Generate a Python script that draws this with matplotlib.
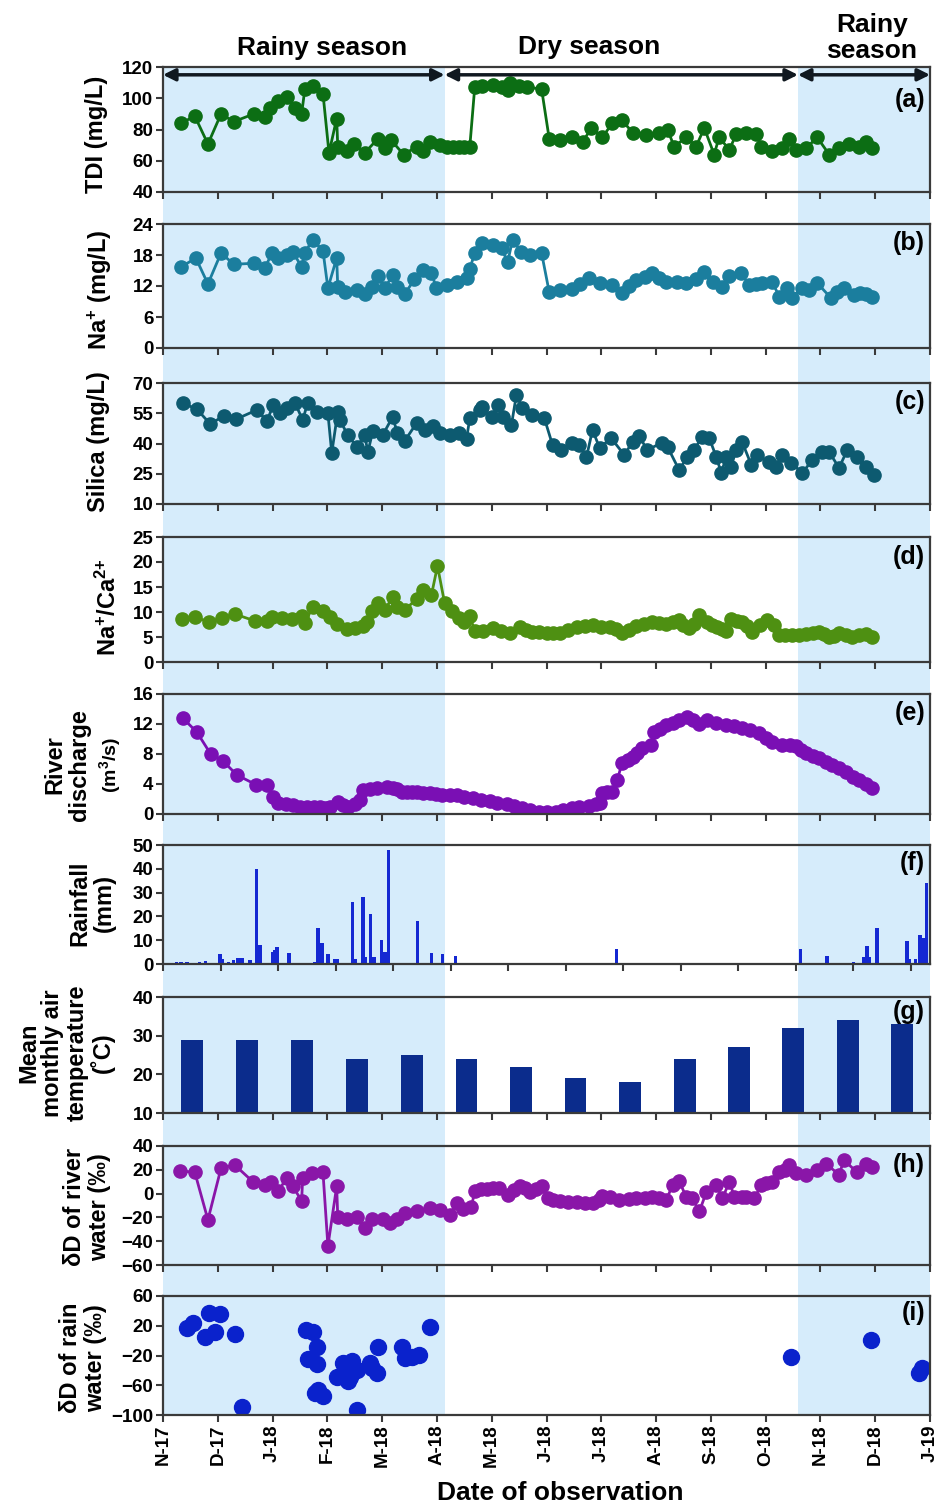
import matplotlib.pyplot as plt

plt.rcParams["font.family"] = ["Liberation Sans", "DejaVu Sans"]
plt.rcParams["font.weight"] = "bold"
plt.rcParams["mathtext.fontset"] = "custom"
plt.rcParams["mathtext.rm"] = "Liberation Sans:bold"
plt.rcParams["mathtext.bf"] = "Liberation Sans:bold"
plt.rcParams["mathtext.default"] = "regular"

# x axis: months since 1 Nov 2017
MONTH_LABELS = ["N-17", "D-17", "J-18", "F-18", "M-18", "A-18", "M-18", "J-18",
                "J-18", "A-18", "S-18", "O-18", "N-18", "D-18", "J-19"]
RAINY_1 = (0.0, 5.14)
DRY = (5.14, 11.59)
RAINY_2 = (11.59, 14.0)

# (a) TDI (mg/L)
tdi_x = [0.33, 0.58, 0.82, 1.06, 1.29, 1.66, 1.86, 1.95, 2.10, 2.26, 2.41, 2.53, 2.59, 2.73,
         2.92, 3.03, 3.17, 3.19, 3.35, 3.48, 3.68, 3.92, 4.05, 4.17, 4.39, 4.63, 4.74, 4.87,
         5.05, 5.18, 5.30, 5.41, 5.50, 5.60, 5.69, 5.83, 6.02, 6.18, 6.29, 6.33, 6.50, 6.64,
         6.91, 7.05, 7.24, 7.47, 7.66, 7.82, 8.02, 8.20, 8.38, 8.57, 8.82, 9.06, 9.21, 9.33,
         9.55, 9.73, 9.88, 10.06, 10.15, 10.34, 10.46, 10.65, 10.83, 10.92, 11.12, 11.30,
         11.43, 11.56, 11.74, 11.94, 12.16, 12.34, 12.52, 12.71, 12.83, 12.94]
tdi_y = [84, 88.6, 70.7, 90, 85, 90, 88, 94, 98, 101, 94, 90, 106, 108,
         103, 65, 87, 69, 66, 71, 65, 74, 68, 73, 64, 69, 66, 72,
         70, 69, 69, 69, 68.5, 69, 107, 108, 108.5, 107, 105, 110, 108, 107,
         106, 74, 73, 75, 72, 81, 75, 84, 86, 78, 76.5, 77.5, 80, 69,
         75, 69, 81, 64, 75, 67, 77, 78, 77, 69, 66, 68,
         74, 67, 68, 75, 64, 68, 71, 69, 72, 68]

# (b) Na+ (mg/L)
na_x = [0.33, 0.60, 0.82, 1.06, 1.29, 1.66, 1.86, 1.99, 2.10, 2.26, 2.37, 2.53, 2.59, 2.73,
        2.92, 3.01, 3.17, 3.19, 3.32, 3.54, 3.68, 3.81, 3.92, 4.05, 4.19, 4.28, 4.41, 4.59,
        4.74, 4.90, 4.99, 5.18, 5.36, 5.54, 5.60, 5.69, 5.83, 6.02, 6.18, 6.29, 6.38, 6.54,
        6.69, 6.91, 7.05, 7.24, 7.47, 7.62, 7.78, 7.97, 8.20, 8.38, 8.50, 8.64, 8.80, 8.93,
        9.05, 9.19, 9.38, 9.55, 9.72, 9.88, 10.03, 10.21, 10.34, 10.55, 10.70, 10.82, 10.94,
        11.12, 11.25, 11.39, 11.48, 11.67, 11.80, 11.94, 12.19, 12.30, 12.43, 12.61, 12.72,
        12.83, 12.94]
na_y = [15.7, 17.4, 12.4, 18.4, 16.2, 16.4, 15.5, 18.4, 17.4, 18, 18.6, 15.7, 18.4, 21,
        18.8, 11.6, 17.4, 11.8, 10.8, 11.2, 10.4, 11.8, 13.9, 11.6, 14.1, 11.8, 10.4, 13.3,
        15.1, 14.5, 11.6, 12.2, 12.8, 13.5, 15.3, 18.4, 20.3, 19.9, 19.3, 16.6, 20.9, 18.6,
        18, 18.4, 10.8, 11.2, 11.4, 12.3, 13.5, 12.6, 12.2, 10.6, 12.0, 13.2, 13.8, 14.5,
        13.6, 12.8, 12.8, 12.6, 13.4, 14.7, 12.8, 11.8, 13.9, 14.5, 12.2, 12.4, 12.6,
        12.8, 9.9, 11.6, 9.7, 11.6, 11.2, 12.6, 9.7, 10.8, 11.6, 10.2, 10.6,
        10.4, 9.9]

# (c) Silica (mg/L)
si_x = [0.36, 0.62, 0.86, 1.11, 1.33, 1.71, 1.90, 2.01, 2.13, 2.26, 2.41, 2.55, 2.64, 2.81,
        3.01, 3.08, 3.19, 3.23, 3.37, 3.54, 3.68, 3.74, 3.83, 4.01, 4.19, 4.28, 4.41, 4.63,
        4.78, 4.92, 5.05, 5.23, 5.41, 5.54, 5.60, 5.78, 5.83, 6.00, 6.11, 6.20, 6.36, 6.45,
        6.56, 6.73, 6.96, 7.11, 7.27, 7.46, 7.60, 7.73, 7.84, 7.97, 8.18, 8.42, 8.57, 8.69,
        8.84, 9.10, 9.21, 9.42, 9.57, 9.70, 9.83, 9.97, 10.10, 10.19, 10.28, 10.37, 10.46,
        10.57, 10.74, 10.85, 11.06, 11.19, 11.30, 11.47, 11.67, 11.85, 12.03, 12.16, 12.34,
        12.49, 12.67, 12.83, 12.98]
si_y = [60, 57, 49.7, 53.6, 52, 56.6, 51.2, 59, 55, 57.6, 60, 51.7, 60, 55.6,
        55, 35.3, 55.6, 51.7, 44.2, 38.3, 44.2, 35.8, 46.2, 44.2, 53.1, 45.2, 41.2, 50.2,
        46.7, 48.7, 45.2, 44.2, 45.2, 42.2, 52.6, 56.6, 58, 53.1, 59, 53.1, 49.2, 64,
        57.6, 54.1, 52.6, 39.3, 36.8, 40.3, 39.3, 33.3, 46.7, 37.8, 42.7, 34.3, 40.8, 43.7,
        36.8, 40.3, 38.3, 26.9, 33.3, 36.8, 43.2, 42.7, 33.3, 25.4, 33.3, 28.4, 36.8,
        40.8, 29.3, 34.3, 30.8, 28.4, 34.3, 30.3, 25.4, 31.8, 35.8, 35.8, 27.9,
        36.8, 33.3, 28.4, 24.4]

# (d) Na+/Ca2+
ratio_x = [0.35, 0.58, 0.84, 1.08, 1.31, 1.68, 1.90, 1.99, 2.17, 2.35, 2.53, 2.59, 2.73, 2.92,
           3.04, 3.17, 3.35, 3.50, 3.65, 3.72, 3.81, 3.92, 4.05, 4.19, 4.28, 4.41, 4.63, 4.74,
           4.90, 5.01, 5.14, 5.27, 5.41, 5.50, 5.60, 5.69, 5.85, 6.02, 6.17, 6.33, 6.51, 6.62,
           6.73, 6.86, 7.00, 7.12, 7.24, 7.40, 7.55, 7.70, 7.84, 8.00, 8.15, 8.26, 8.38, 8.50,
           8.64, 8.78, 8.93, 9.06, 9.19, 9.30, 9.42, 9.50, 9.61, 9.70, 9.79, 9.93, 10.02, 10.12,
           10.20, 10.28, 10.37, 10.47, 10.57, 10.66, 10.75, 10.90, 11.03, 11.16, 11.25, 11.35,
           11.48, 11.60, 11.74, 11.86, 11.98, 12.07, 12.16, 12.25, 12.34, 12.46, 12.58, 12.70,
           12.83, 12.94]
ratio_y = [8.6, 9, 8, 8.8, 9.6, 8.2, 8.2, 9, 8.8, 8.6, 9.2, 7.8, 11, 10.2,
           9, 7.6, 6.6, 6.8, 7.2, 8, 10.2, 11.8, 10.4, 13, 11, 10.4, 12.6, 14.4,
           13.4, 19.2, 11.8, 10.2, 8.8, 8, 9.2, 6.2, 6.3, 6.8, 6.2, 5.8, 7, 6.5,
           6, 6.0, 5.8, 5.9, 5.8, 6.4, 7, 7.2, 7.4, 7.1, 7, 6.6, 5.8, 6.5,
           7.2, 7.6, 8, 7.8, 7.6, 8.0, 8.4, 7.4, 6.8, 7.6, 9.4, 8, 7.5, 7,
           6.6, 6.2, 8.6, 8.3, 8, 7.2, 6, 7.4, 8.4, 7.4, 5.4, 5.5,
           5.4, 5.5, 5.6, 5.8, 6, 5.6, 5, 5.3, 5.8, 5.5, 5, 5.4,
           5.6, 5]

# (e) River discharge (m3/s)
q_x = [0.36, 0.62, 0.87, 1.09, 1.35, 1.70, 1.90, 2.01, 2.10, 2.25, 2.37, 2.50, 2.62, 2.75,
       2.86, 2.95, 3.04, 3.19, 3.28, 3.37, 3.50, 3.59, 3.65, 3.78, 3.90, 4.08, 4.20, 4.27,
       4.36, 4.45, 4.54, 4.63, 4.75, 4.87, 4.98, 5.10, 5.23, 5.36, 5.50, 5.65, 5.80, 5.96,
       6.10, 6.27, 6.40, 6.56, 6.70, 6.87, 7.00, 7.18, 7.30, 7.47, 7.60, 7.78, 7.90, 7.97,
       8.02, 8.10, 8.20, 8.29, 8.38, 8.48, 8.57, 8.66, 8.75, 8.91, 8.97, 9.08, 9.19, 9.30,
       9.42, 9.57, 9.68, 9.79, 9.93, 10.10, 10.28, 10.42, 10.57, 10.72, 10.88, 11.00, 11.12,
       11.30, 11.45, 11.56, 11.65, 11.74, 11.86, 11.98, 12.10, 12.21, 12.34, 12.47, 12.59,
       12.71, 12.83, 12.94]
q_y = [12.8, 10.9, 8, 7.1, 5.2, 3.9, 3.9, 2.3, 1.5, 1.3, 1.2, 1.0, 0.9, 0.9,
       0.9, 0.85, 0.9, 1.6, 1.2, 0.9, 1.4, 1.9, 3.2, 3.4, 3.5, 3.6, 3.5, 3.3,
       3.0, 2.9, 2.9, 2.9, 2.85, 2.8, 2.7, 2.5, 2.55, 2.5, 2.3, 2.1, 1.9, 1.7,
       1.5, 1.3, 1.05, 0.8, 0.55, 0.3, 0.3, 0.3, 0.5, 0.8, 0.95, 1.1, 1.3, 1.5,
       2.8, 2.9, 2.9, 4.5, 6.8, 7.2, 7.6, 8.2, 8.8, 9.2, 10.9, 11.4, 11.9, 12.2,
       12.5, 12.9, 12.5, 12.0, 12.5, 12.2, 11.9, 11.7, 11.5, 11.2, 10.8, 10.2, 9.6,
       9.2, 9.2, 9.1, 8.6, 8.1, 7.8, 7.5, 7.0, 6.5, 6.1, 5.6, 5.0,
       4.5, 4.0, 3.5]

# (f) Daily rainfall (mm)
rain_x = [0.24, 0.33, 0.44, 0.67, 0.77, 1.04, 1.09, 1.20, 1.29, 1.37, 1.44, 1.59, 1.71, 1.77,
          2.00, 2.04, 2.08, 2.30, 2.77, 2.83, 2.90, 3.01, 3.14, 3.19, 3.46, 3.52, 3.65, 3.70,
          3.79, 3.85, 3.99, 4.05, 4.12, 4.27, 4.37, 4.65, 4.90, 5.10, 5.34, 7.02, 8.09, 8.28,
          10.21, 11.63, 12.12, 12.61, 12.78, 12.85, 12.89, 13.03, 13.58, 13.63, 13.74, 13.82,
          13.87, 13.94]
rain_y = [1, 1, 1, 0.8, 1.3, 4, 2, 1, 1.5, 2.5, 2.5, 1.5, 40, 8,
          5, 6, 7, 4.5, 1, 15, 9, 4, 2, 2, 26, 2, 28, 3,
          21, 3, 10, 5, 48, 0.5, 0.3, 18, 4.5, 4, 3.5, 0.2, 0.3, 6.5,
          0.3, 6.5, 3.5, 1, 3, 7.5, 3, 15, 9.5, 2, 2, 12,
          11, 34]

# (g) Mean monthly air temperature (deg C)
temp_x = [0.53, 1.53, 2.53, 3.54, 4.54, 5.54, 6.54, 7.53, 8.53, 9.53, 10.52, 11.50, 12.50, 13.49]
temp_y = [29, 29, 29, 24, 25, 24, 22, 19, 18, 24, 27, 32, 34, 33]

# (h) dD of river water (permil)
dr_x = [0.31, 0.58, 0.82, 1.06, 1.31, 1.64, 1.86, 1.97, 2.10, 2.26, 2.37, 2.53, 2.55, 2.72,
        2.92, 3.01, 3.17, 3.19, 3.35, 3.54, 3.68, 3.81, 4.01, 4.14, 4.28, 4.41, 4.63, 4.87,
        5.05, 5.23, 5.36, 5.47, 5.63, 5.69, 5.80, 5.91, 6.02, 6.14, 6.29, 6.40, 6.51, 6.60,
        6.69, 6.80, 6.91, 7.02, 7.12, 7.24, 7.40, 7.55, 7.70, 7.84, 7.95, 8.02, 8.15, 8.33,
        8.50, 8.64, 8.80, 8.93, 9.05, 9.19, 9.30, 9.42, 9.55, 9.66, 9.79, 9.92, 10.10,
        10.21, 10.34, 10.43, 10.57, 10.65, 10.79, 10.92, 11.00, 11.12, 11.25, 11.35, 11.43,
        11.56, 11.74, 11.94, 12.10, 12.34, 12.43, 12.67, 12.83, 12.94]
dr_y = [19, 18, -22, 21.5, 24, 10, 7, 10, 2, 13, 6, -6, 13, 17,
        18, -44, 6, -20, -21, -20, -29, -21, -21, -25, -21, -16, -15, -12,
        -14, -18, -8, -13, -11, 2, 4, 4, 4.5, 5, -1, 3, 6, 5,
        1.5, 4, 6, -4, -5, -6, -7, -7, -7.5, -8, -5, -2, -3, -5,
        -4.5, -4, -3.5, -3, -4, -5, 7, 11, -3, -4, -15, 1.5, 7,
        -4, 10, -3, -3, -3, -4, 7, 9, 10, 18, 20, 24,
        17, 16, 20, 25, 16, 28, 18, 25, 22]

# (i) dD of rain water (permil)
dp_x = [0.44, 0.55, 0.77, 0.84, 0.95, 1.04, 1.31, 1.44, 2.61, 2.73, 2.81, 2.64, 2.81, 2.83,
        2.92, 2.77, 3.17, 3.28, 3.41, 3.37, 3.45, 3.54, 3.55, 3.77, 3.81, 3.90, 3.92, 4.37,
        4.41, 4.54, 4.68, 4.87, 11.47, 12.92, 13.80, 13.85]
dp_y = [17, 24, 5, 37, 12, 36, 9, -89, 14, 12, -9, -25, -31, -66,
        -75, -70, -49, -30, -49, -54, -28, -39, -93, -30, -37, -44, -8, -8,
        -24, -22, -19, 18, -22, 1, -44, -37]

W, H = 941, 1509
LEFT, RIGHT = 163, 930


def fx(px):
    return px / W


def fy(py):
    return 1 - py / H


def make_axes(fig, top, bottom):
    ax = fig.add_axes([fx(LEFT), fy(bottom), fx(RIGHT) - fx(LEFT), (bottom - top) / H])
    ax.set_facecolor("none")
    ax.set_xlim(0, 14)
    ax.set_xticks(range(15))
    ax.set_xticklabels([])
    for sp in ax.spines.values():
        sp.set_color("#3a3a3a")
        sp.set_linewidth(1.6)
    ax.tick_params(direction="out", length=5, width=1.5, color="#3a3a3a",
                   labelsize=13.5, pad=2)
    return ax


fig = plt.figure(figsize=(W / 100, H / 100), dpi=100)

# seasonal shading behind all panels
bg = fig.add_axes([fx(LEFT), fy(1415), fx(RIGHT) - fx(LEFT), (1415 - 67) / H], zorder=-5)
bg.set_xlim(0, 14)
bg.set_ylim(0, 1)
bg.axis("off")
for a, b in (RAINY_1, RAINY_2):
    bg.axvspan(a, b, color="#d6ecfb", lw=0)

rows = [(67, 192), (224, 348), (383, 504), (537, 662), (694, 814),
        (845, 964), (997, 1113), (1146, 1265), (1296, 1415)]
axes = [make_axes(fig, t, b) for t, b in rows]
ax_a, ax_b, ax_c, ax_d, ax_e, ax_f, ax_g, ax_h, ax_i = axes

line_kw = dict(marker="o", markersize=9.5, linewidth=2)
ax_a.plot(tdi_x, tdi_y, color="#0c6e14", **line_kw)
ax_a.set_ylim(40, 120)
ax_a.set_yticks(range(40, 121, 20))

ax_b.plot(na_x, na_y, color="#1b7e9e", **line_kw)
ax_b.set_ylim(0, 24)
ax_b.set_yticks(range(0, 25, 6))

ax_c.plot(si_x, si_y, color="#0d5a70", **line_kw)
ax_c.set_ylim(10, 70)
ax_c.set_yticks(range(10, 71, 15))

ax_d.plot(ratio_x, ratio_y, color="#4e9012", **line_kw)
ax_d.set_ylim(0, 25)
ax_d.set_yticks(range(0, 26, 5))

ax_e.plot(q_x, q_y, color="#7a0fb4", **line_kw)
ax_e.set_ylim(0, 16)
ax_e.set_yticks(range(0, 17, 4))

ax_f.bar(rain_x, rain_y, width=0.06, color="#1428d2")
ax_f.set_ylim(0, 50)
ax_f.set_yticks(range(0, 51, 10))
ax_f.set_xticks([k * 1.05 for k in range(14)])
ax_f.set_xticklabels([])

ax_g.bar(temp_x, temp_y, width=0.4, color="#0b2c8c")
ax_g.set_ylim(10, 40)
ax_g.set_yticks(range(10, 41, 10))

ax_h.plot(dr_x, dr_y, color="#8a16a8", **line_kw)
ax_h.set_ylim(-60, 40)
ax_h.set_yticks(range(-60, 41, 20))

ax_i.plot(dp_x, dp_y, "o", color="#0a22cc", markersize=11.5)
ax_i.set_ylim(-100, 60)
ax_i.set_yticks(range(-100, 61, 40))
ax_i.set_xticklabels(MONTH_LABELS, rotation=90, fontsize=13.5, fontweight="bold")

for ax in axes:
    for lab in ax.get_yticklabels():
        lab.set_fontweight("bold")

# season arrows across the top panel
arrow_kw = dict(arrowstyle="<|-|>", color="#101820", lw=2.5, mutation_scale=18,
                shrinkA=0, shrinkB=0)
for a, b in (RAINY_1, DRY, RAINY_2):
    ax_a.annotate("", xy=(b, 115), xytext=(a, 115), arrowprops=arrow_kw,
                  annotation_clip=False)

fig.text(fx(322), fy(48), "Rainy season", ha="center", va="center", fontsize=19)
fig.text(fx(589), fy(47), "Dry season", ha="center", va="center", fontsize=19)
fig.text(fx(872), fy(38), "Rainy\nseason", ha="center", va="center", fontsize=19,
         linespacing=1.15)

# panel letters
letters = ["(a)", "(b)", "(c)", "(d)", "(e)", "(f)", "(g)", "(h)", "(i)"]
letter_y = [100, 243, 402, 557, 713, 863, 1012, 1165, 1313]
for lab, ly in zip(letters, letter_y):
    fig.text(fx(925), fy(ly), lab, ha="right", va="center", fontsize=18)

# y axis titles
ylab_kw = dict(rotation=90, ha="center", va="center", fontsize=17, multialignment="center")
fig.text(fx(96), fy(134), "TDI (mg/L)", **ylab_kw)
fig.text(fx(100), fy(290), "Na$^{+}$ (mg/L)", **ylab_kw)
fig.text(fx(99), fy(442), "Silica (mg/L)", **ylab_kw)
fig.text(fx(108), fy(607), "Na$^{+}$/Ca$^{2{+}}$", **ylab_kw)
fig.text(fx(67), fy(765), "River\ndischarge", linespacing=1.1, **ylab_kw)
fig.text(fx(110), fy(765), "(m$^{3}$/s)", rotation=90, ha="center", va="center", fontsize=14)
fig.text(fx(92), fy(903), "Rainfall\n(mm)", linespacing=1.1, **ylab_kw)
fig.text(fx(66), fy(1053), "Mean\nmonthly air\ntemperature\n(˚C)", linespacing=1.05, **ylab_kw)
fig.text(fx(87), fy(1207), "δD of river\nwater (‰)", linespacing=1.1, **ylab_kw)
fig.text(fx(83), fy(1358), "δD of rain\nwater (‰)", linespacing=1.1, **ylab_kw)

fig.text(fx(560), fy(1493), "Date of observation", ha="center", va="center", fontsize=19)

fig.savefig("out.png", dpi=100)
